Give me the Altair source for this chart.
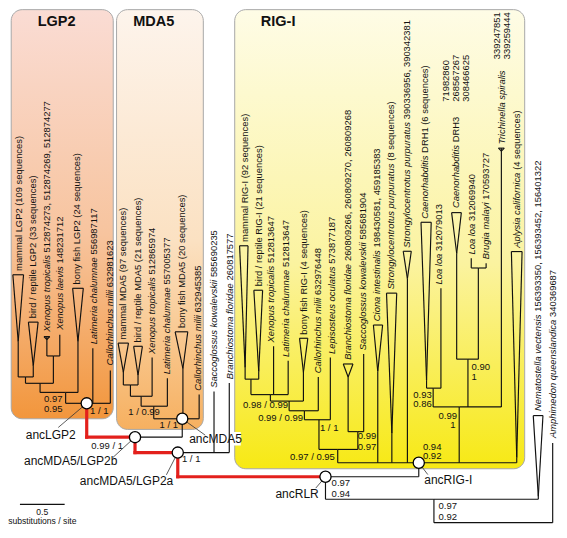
import altair as alt
import pandas as pd

IMG_W, IMG_H = 567, 538
W, H = 551, 520
SX, SY = W / IMG_W, H / IMG_H
FONT = "Liberation Sans"
FS_LEAF = 9.4
FS_SUP = 9.5
FS_NODE = 12

# ---------------- data ----------------
box_names = ["LGP2", "MDA5", "RIG-I"]
box_x1 = [3.3, 111.7, 233.3]
box_x2 = [108.3, 201.0, 531.7]
box_y1 = [1.7, 1.7, 1.7]
box_y2 = [425.0, 436.0, 476.7]
box_c_top = ["#fadcd4", "#fdf4ec", "#fefce6"]
box_c_mid = ["#f7c49e", "#fbe1c2", "#fbf3a0"]
box_c_bot = ["#f2963c", "#f6b060", "#f7e914"]
title_x = [50, 150, 278]
title_y = [15, 15, 15]

leaf_ids = ["mLGP2", "bLGP2", "XtL", "XlL", "bfL", "LaL", "CaL",
            "mM", "bM", "XtM", "LaM", "bfM", "CaM", "SaM", "BrM",
            "mR", "bR", "XtR", "LaR", "bfR", "CaR", "LeR", "BrR", "SaR", "CiR",
            "Sp8", "Sp2", "DRH1", "Ll1", "DRH3", "Ll2", "Bm", "Ts", "Ap", "Nv", "Aq"]
leaf_x = [10.5, 26, 40, 53.3, 72, 87.3, 105.3,
          118.7, 133.8, 148.3, 164, 180, 196.7, 212, 227.7,
          244, 258, 273.3, 288.3, 304, 319.3, 331.7, 350, 366, 380.5,
          395, 411, 430.7, 445.5, 461.7, 476.7, 492, 507.7, 523.5, 545.7, 560.5]
leaf_top = [345, 370, 340, 338, 345, 352, 375,
            376.7, 380, 361.7, 383, 373, 400, 396.7, 388,
            372, 376, 350, 365, 376.7, 381.7, 361.7, 381.7, 358, 376,
            440, 280, 385, 290, 254, 259, 264, 145, 465, 505, 450]
tri_ids = ["mLGP2", "bLGP2", "bfL", "mM", "bM", "bfM", "mR", "bR", "bfR", "BrR",
           "CiR", "Sp8", "Sp2", "DRH1", "DRH3", "Ap", "Nv"]
tri_x1 = [5, 21, 66.5, 113.3, 129.3, 172, 238.3, 253, 300, 345,
          376, 389.5, 406.7, 425, 456.5, 518, 540.5]
tri_x2 = [16, 31, 77.5, 124, 138.3, 185, 247, 262, 308.5, 355,
          385.5, 400, 415, 435.5, 466.5, 529, 550.5]
tri_top = [276, 325, 290, 346.7, 350, 335, 246, 292, 341.7, 368.3,
           328, 295, 251.7, 221.7, 211.7, 252, 421.7]
tee_ids = ["XtL", "Ts"]

node_ids = ["A", "X", "B", "C", "ancLGP2",
            "M1", "M2", "M3", "ancMDA5", "ancMDA5/LGP2b", "ancMDA5/LGP2a",
            "V1", "V3", "V4", "V5", "V6", "BS", "V7",
            "DL", "LB", "D3", "N", "ancRIG-I", "ancRLR", "R1", "ROOT"]
node_y = [381.7, 360, 388.3, 397.7, 409,
          390, 401.7, 412, 425, 444, 460,
          384, 400, 406.7, 416.7, 426, 438.3, 456.7,
          393.3, 269, 363.3, 412.7, 470.5, 485, 508.3, 532.5]
node_stem = [18, 46.7, 33, 59.3, 81,
             126, 137, 150, 179.3, 130.7, 174.7,
             250, 270, 289.3, 305, 320, 360, 339.3,
             437.5, 484, 473.3, 464.3, 422.7, 326.7, 438.3, 0]
node_children = [["mLGP2", "bLGP2"], ["XtL", "XlL"], ["A", "X"], ["B", "bfL"], ["C", "LaL", "CaL"],
                 ["mM", "bM"], ["M1", "XtM"], ["M2", "LaM"], ["M3", "bfM", "CaM"],
                 ["ancLGP2", "ancMDA5"], ["ancMDA5/LGP2b", "SaM", "BrM"],
                 ["mR", "bR"], ["V1", "XtR", "LaR"], ["V3", "bfR"], ["V4", "CaR"], ["V5", "LeR"],
                 ["BrR", "SaR"], ["V6", "BS"],
                 ["DRH1", "Ll1"], ["Ll2", "Bm"], ["DRH3", "LB"], ["DL", "D3", "Ts"],
                 ["V7", "CiR", "Sp8", "Sp2", "N", "Ap"], ["ancMDA5/LGP2a", "ancRIG-I"],
                 ["ancRLR", "Nv"], ["R1", "Aq"]]
red_nodes = ["ancLGP2", "ancMDA5/LGP2b", "ancMDA5/LGP2a"]
circle_nodes = ["ancLGP2", "ancMDA5", "ancMDA5/LGP2b", "ancMDA5/LGP2a", "ancRLR", "ancRIG-I"]

# leaf labels: x, start y, italic part, normal part
lab_x = [11.5, 26, 40, 53.5, 71.5, 88, 104.5,
         118.5, 133.5, 148, 164, 179.5, 196, 212, 228,
         243.5, 258, 271, 286, 305, 319, 333, 350, 365.5, 380,
         394, 410.5, 429.5, 444, 461, 477, 492, 508, 523.5, 545.5, 561]
lab_y = [272, 321, 335, 333, 286, 348, 370,
         343, 346, 358, 379, 331, 396, 393, 384,
         242, 288, 346, 361, 338, 378, 358, 364, 354, 324,
         291, 248, 218, 286, 207, 255, 260, 141, 248, 417, 445]
lab_it = ["", "", "Xenopus tropicalis", "Xenopus laevis", "", "Latimeria chalumnae", "Callorhinchus milii",
          "", "", "Xenopus tropicalis", "Latimeria chalumnae", "", "Callorhinchus milii",
          "Saccoglossus kowalevskii", "Branchiostoma floridae",
          "", "", "Xenopus tropicalis", "Latimeria chalumnae", "", "Callorhinchus milii",
          "Lepisosteus oculatus", "Branchiostoma floridae", "Saccoglossus kowalevskii", "Ciona intestinalis",
          "Strongylocentrotus purpuratus", "Strongylocentrotus purpuratus", "Caenorhabditis", "Loa loa",
          "Caenorhabditis", "Loa loa", "Brugia malayi", "Trichinella spiralis", "Aplysia californica",
          "Nematostella vectensis", "Amphimedon queenslandica"]
lab_rm = ["mammal LGP2 (109 sequences)", "bird / reptile LGP2 (33 sequences)",
          "512874273, 512874269, 512874277", "148231712", "bony fish LGP2 (24 sequences)",
          "556987117", "632981623",
          "mammal MDA5 (97 sequences)", "bird / reptile MDA5 (21 sequences)", "512865974", "557005377",
          "bony fish MDA5 (20 sequences)", "632945385", "585690235", "260817577",
          "mammal RIG-I (92 sequences)", "bird / reptile RIG-I (21 sequences)", "512813647", "512813647",
          "bony fish RIG-I (4 sequences)", "632976448", "573877187", "260809266, 260809270, 260809268",
          "585681904", "198430581, 459185383", "(8 sequences)", "390336956, 390342381",
          "DRH1 (6 sequences)", "312079013", "DRH3", "312069940", "170593727", "",
          "(4 sequences)", "156393350, 156393452, 156401322", "340369687"]
extra_txt = ["71982860", "268567267", "308466625", "339247851", "339259444"]
extra_x = [451, 461, 471, 503, 513]
extra_y = [97, 97, 97, 53, 53]

sup_c_txt = ["1 / 1", "1 / 0.99", "1 / 1", "0.99 / 1", "1 / 1", "0.98 / 0.99", "0.99 / 0.99",
             "1 / 1", "0.97 / 0.95"]
sup_c_x = [94, 140, 165.5, 102, 188.5, 265, 280.5, 330.5, 313.3]
sup_c_y = [417, 418.3, 431.7, 452.7, 466.7, 410.5, 424, 435, 465]
sup_l_txt = ["0.97", "0.95", "0.99", "0.97", "0.94", "0.92", "0.93", "0.86", "0.90", "1",
             "0.99", "1", "0.97", "0.94", "0.97", "0.92"]
sup_l_x = [37, 37, 360, 360, 427, 427, 417, 417, 477, 477, 443, 455, 333, 333, 443, 443]
sup_l_y = [405, 415, 443, 454, 454, 464, 400, 410, 371.7, 381.7, 421.7, 431.7, 491.7, 503.3, 515, 526.7]

anc_txt = ["ancLGP2", "ancMDA5/LGP2b", "ancMDA5/LGP2a", "ancMDA5", "ancRLR", "ancRIG-I"]
anc_x = [44, 64.5, 122, 213.5, 297.5, 453]
anc_y = [441.7, 469, 489.3, 445.7, 503.3, 488.3]
ptr_from = ["ancLGP2", "ancMDA5/LGP2b", "ancMDA5/LGP2a", "ancMDA5", "ancRLR", "ancRIG-I"]
ptr_x2 = [51.7, 108, 163, 203, 316.7, 432]
ptr_y2 = [434, 465, 483, 442, 496.7, 482.7]

scale_x = [12.3, 58.3]
scale_y = 513.5
scale_text_y = [521.5, 531.0]
scale_len_label = "0.5"
scale_unit_label = "substitutions / site"

# ---------------- geometry from the tree ----------------
AW = {' ': 278, ',': 278, '(': 333, ')': 333, '/': 278, '-': 333, '.': 278,
      'a': 556, 'b': 556, 'c': 500, 'd': 556, 'e': 556, 'f': 278, 'g': 556, 'h': 556, 'i': 222,
      'j': 222, 'k': 500, 'l': 222, 'm': 833, 'n': 556, 'o': 556, 'p': 556, 'q': 556, 'r': 333,
      's': 500, 't': 278, 'u': 556, 'v': 500, 'w': 722, 'x': 500, 'y': 500, 'z': 500,
      'A': 667, 'B': 667, 'C': 722, 'D': 722, 'E': 667, 'F': 611, 'G': 778, 'H': 722, 'I': 278,
      'L': 556, 'M': 833, 'N': 722, 'P': 667, 'R': 722, 'S': 667, 'T': 611, 'X': 667}


def text_w(s, fs):
    return sum(AW.get(c, 556) for c in s) / 1000.0 * fs


LX = dict(zip(leaf_ids, leaf_x))
LT = dict(zip(leaf_ids, leaf_top))
NY = dict(zip(node_ids, node_y))
NS = dict(zip(node_ids, node_stem))


def cx(c):
    return LX[c] if c in LX else NS[c]


def ctop(c):
    return LT[c] if c in LT else NY[c]


segs = []
for n, y, s, ch in zip(node_ids, node_y, node_stem, node_children):
    xs = [cx(c) for c in ch]
    for c in ch:
        col = "red" if c in red_nodes else "black"
        segs.append((cx(c), ctop(c), cx(c), y, col))
    if n == "ROOT":
        segs.append((min(xs), y, max(xs), y, "black"))
        continue
    lo, hi = min(xs), max(xs)
    left_red = any(c in red_nodes and cx(c) < s for c in ch)
    right_red = any(c in red_nodes and cx(c) > s for c in ch)
    segs.append((lo, y, s, y, "red" if left_red else "black"))
    segs.append((s, y, hi, y, "red" if right_red else "black"))
for t, x1, x2, top in zip(tri_ids, tri_x1, tri_x2, tri_top):
    ax, ay = LX[t], LT[t]
    segs += [(x1, top, x2, top, "black"), (x1, top, ax, ay, "black"), (x2, top, ax, ay, "black")]
for t in tee_ids:
    ax, ay = LX[t], LT[t]
    segs += [(ax - 3, ay, ax + 3, ay, "black"), (ax - 3, ay, ax, ay + 3, "black"),
             (ax + 3, ay, ax, ay + 3, "black")]
segs.append((scale_x[0], scale_y, scale_x[1], scale_y, "black"))
seg_df = pd.DataFrame(segs, columns=["x", "y", "x2", "y2", "col"])

ptr_df = pd.DataFrame({"x": [NS[p] for p in ptr_from], "y": [NY[p] for p in ptr_from],
                       "x2": ptr_x2, "y2": ptr_y2})
circ_df = pd.DataFrame({"x": [NS[c] for c in circle_nodes], "y": [NY[c] for c in circle_nodes]})

it_df = pd.DataFrame({"x": lab_x, "y": lab_y, "t": lab_it})
it_df = it_df[it_df.t != ""]
rm_y = [y - (text_w(i + " ", FS_LEAF) / SY if i else 0) for y, i in zip(lab_y, lab_it)]
rm_df = pd.DataFrame({"x": lab_x + extra_x, "y": rm_y + extra_y, "t": lab_rm + extra_txt})
rm_df = rm_df[rm_df.t != ""]

xs_ = alt.Scale(domain=[0, IMG_W], nice=False, zero=False)
ys_ = alt.Scale(domain=[0, IMG_H], nice=False, zero=False, reverse=True)
X = alt.X("x:Q", scale=xs_, axis=None)
Y = alt.Y("y:Q", scale=ys_, axis=None)

layers = []
for i in range(3):
    bd = pd.DataFrame({"x": [box_x1[i]], "x2": [box_x2[i]], "y": [box_y1[i]], "y2": [box_y2[i]]})
    grad = alt.LinearGradient(gradient="linear", x1=0, x2=0, y1=0, y2=1,
                              stops=[alt.GradientStop(color=box_c_top[i], offset=0),
                                     alt.GradientStop(color=box_c_mid[i], offset=0.55),
                                     alt.GradientStop(color=box_c_bot[i], offset=1)])
    layers.append(alt.Chart(bd).mark_rect(fill=grad, stroke="#a8a8a8", strokeWidth=1,
                                          cornerRadius=11).encode(x=X, x2="x2:Q", y=Y, y2="y2:Q"))

# white background behind ancMDA5 label
bg = pd.DataFrame({"x": [anc_x[3] - 26], "x2": [anc_x[3] + 26], "y": [anc_y[3] - 7], "y2": [anc_y[3] + 7]})
layers.append(alt.Chart(bg).mark_rect(fill="white").encode(x=X, x2="x2:Q", y=Y, y2="y2:Q"))

layers.append(alt.Chart(seg_df[seg_df.col == "black"]).mark_rule(color="#111", strokeWidth=1.15)
              .encode(x=X, y=Y, x2="x2:Q", y2="y2:Q"))
layers.append(alt.Chart(seg_df[seg_df.col == "red"]).mark_rule(color="#e3201c", strokeWidth=3.2, strokeCap="square")
              .encode(x=X, y=Y, x2="x2:Q", y2="y2:Q"))
layers.append(alt.Chart(ptr_df).mark_rule(color="#333", strokeWidth=0.8)
              .encode(x=X, y=Y, x2="x2:Q", y2="y2:Q"))
layers.append(alt.Chart(circ_df).mark_point(filled=True, fill="white", stroke="black", strokeWidth=1.3,
                                            size=125, opacity=1, shape="circle")
              .encode(x=X, y=Y))

layers.append(alt.Chart(it_df).mark_text(font=FONT, fontSize=FS_LEAF, fontStyle="italic", angle=270,
                                         align="left", baseline="middle", color="#111")
              .encode(x=X, y=Y, text="t:N"))
layers.append(alt.Chart(rm_df).mark_text(font=FONT, fontSize=FS_LEAF, angle=270,
                                         align="left", baseline="middle", color="#111")
              .encode(x=X, y=Y, text="t:N"))

layers.append(alt.Chart(pd.DataFrame({"x": sup_c_x, "y": sup_c_y, "t": sup_c_txt}))
              .mark_text(font=FONT, fontSize=FS_SUP, align="center", baseline="middle", color="#111")
              .encode(x=X, y=Y, text="t:N"))
layers.append(alt.Chart(pd.DataFrame({"x": sup_l_x, "y": sup_l_y, "t": sup_l_txt}))
              .mark_text(font=FONT, fontSize=FS_SUP, align="left", baseline="middle", color="#111")
              .encode(x=X, y=Y, text="t:N"))
layers.append(alt.Chart(pd.DataFrame({"x": anc_x, "y": anc_y, "t": anc_txt}))
              .mark_text(font=FONT, fontSize=FS_NODE, align="center", baseline="middle", color="#111")
              .encode(x=X, y=Y, text="t:N"))
layers.append(alt.Chart(pd.DataFrame({"x": title_x, "y": title_y, "t": box_names}))
              .mark_text(font=FONT, fontSize=14.5, fontWeight="bold", align="center", baseline="middle",
                         color="#111")
              .encode(x=X, y=Y, text="t:N"))
mid = (scale_x[0] + scale_x[1]) / 2
layers.append(alt.Chart(pd.DataFrame({"x": [mid, mid], "y": scale_text_y,
                                      "t": [scale_len_label, scale_unit_label]}))
              .mark_text(font=FONT, fontSize=8.6, align="center", baseline="middle", color="#111")
              .encode(x=X, y=Y, text="t:N"))

chart = alt.layer(*layers).properties(
    width=W, height=H, padding=0, autosize=alt.AutoSizeParams(type="none")
).configure_view(stroke=None)

chart.save("out.html", embed_options={"renderer": "svg", "actions": False})
